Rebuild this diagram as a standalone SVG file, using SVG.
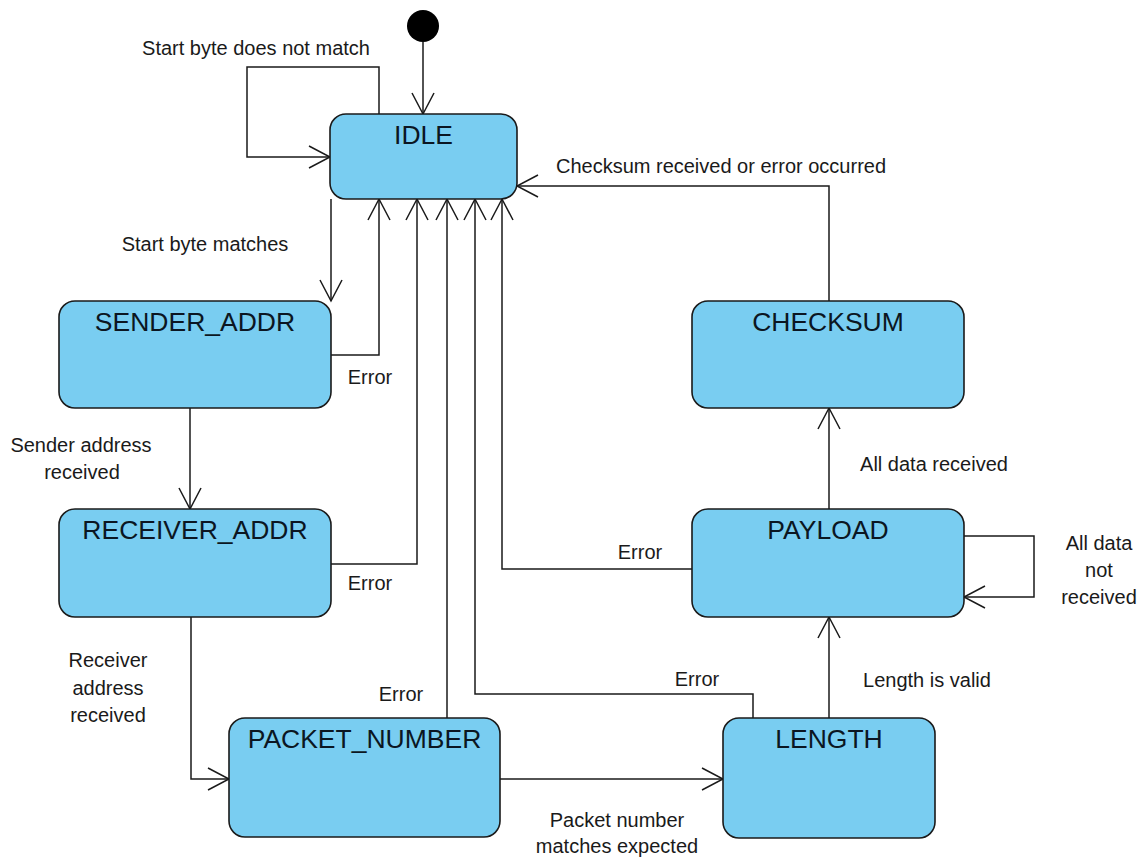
<svg xmlns="http://www.w3.org/2000/svg" width="1145" height="857" viewBox="0 0 1145 857">
<style>
.state{fill:#79CDF1;stroke:#1a1a1a;stroke-width:1.6}
.name{font-family:"Liberation Sans",Arial,sans-serif;font-size:26.5px;fill:#0b1622;text-anchor:middle}
.lbl{font-family:"Liberation Sans",Arial,sans-serif;font-size:20px;fill:#1a1a1a;text-anchor:middle}
.conn{fill:none;stroke:#1a1a1a;stroke-width:1.5;marker-end:url(#arr)}
</style>
<defs>
<marker id="arr" markerUnits="userSpaceOnUse" markerWidth="26" markerHeight="26" refX="23" refY="13" orient="auto">
<path d="M2,2 L23,13 L2,24" fill="none" stroke="#1a1a1a" stroke-width="1.5"/>
</marker>
</defs>
<rect width="1145" height="857" fill="#ffffff"/>
<g id="connectors">
<path class="conn" d="M423,42 V114"/>
<path class="conn" d="M379,114 V67 H247 V157 H330"/>
<path class="conn" d="M331,199 V301"/>
<path class="conn" d="M331,355 H379 V199"/>
<path class="conn" d="M190,408 V509"/>
<path class="conn" d="M331,564 H417 V199"/>
<path class="conn" d="M191,617 V779 H229"/>
<path class="conn" d="M447,718 V199"/>
<path class="conn" d="M500,779 H723"/>
<path class="conn" d="M753,718 V694 H475 V199"/>
<path class="conn" d="M829,718 V617"/>
<path class="conn" d="M692,569 H502 V199"/>
<path class="conn" d="M964,536 H1034 V597 H964"/>
<path class="conn" d="M829,509 V408"/>
<path class="conn" d="M829,301 V186 H517"/>
</g>
<g id="labels">
<text class="lbl" x="256" y="55">Start byte does not match</text>
<text class="lbl" x="205" y="251">Start byte matches</text>
<text class="lbl" x="370" y="384">Error</text>
<text class="lbl" x="81" y="452">Sender address</text>
<text class="lbl" x="82" y="479">received</text>
<text class="lbl" x="370" y="590">Error</text>
<text class="lbl" x="108" y="667">Receiver</text>
<text class="lbl" x="108" y="695">address</text>
<text class="lbl" x="108" y="722">received</text>
<text class="lbl" x="401" y="701">Error</text>
<text class="lbl" x="697" y="686">Error</text>
<text class="lbl" x="617" y="827">Packet number</text>
<text class="lbl" x="617" y="853">matches expected</text>
<text class="lbl" x="640" y="559">Error</text>
<text class="lbl" x="927" y="687">Length is valid</text>
<text class="lbl" x="1099" y="550">All data</text>
<text class="lbl" x="1099" y="577">not</text>
<text class="lbl" x="1099" y="604">received</text>
<text class="lbl" x="934" y="471">All data received</text>
<text class="lbl" x="721" y="173">Checksum received or error occurred</text>
</g>
<g id="initial">
<circle cx="423" cy="26" r="16" fill="#000000"/>
</g>
<g id="IDLE">
<rect class="state" x="330" y="114" width="187" height="85" rx="16"/>
<text class="name" x="423.5" y="144">IDLE</text>
</g>
<g id="SENDER_ADDR">
<rect class="state" x="59" y="301" width="272" height="107" rx="16"/>
<text class="name" x="195" y="331">SENDER_ADDR</text>
</g>
<g id="RECEIVER_ADDR">
<rect class="state" x="59" y="509" width="272" height="108" rx="16"/>
<text class="name" x="195" y="539">RECEIVER_ADDR</text>
</g>
<g id="PACKET_NUMBER">
<rect class="state" x="229" y="718" width="271" height="119" rx="16"/>
<text class="name" x="364.5" y="748">PACKET_NUMBER</text>
</g>
<g id="LENGTH">
<rect class="state" x="723" y="718" width="212" height="120" rx="16"/>
<text class="name" x="829" y="748">LENGTH</text>
</g>
<g id="PAYLOAD">
<rect class="state" x="692" y="509" width="272" height="108" rx="16"/>
<text class="name" x="828" y="539">PAYLOAD</text>
</g>
<g id="CHECKSUM">
<rect class="state" x="692" y="301" width="272" height="107" rx="16"/>
<text class="name" x="828" y="331">CHECKSUM</text>
</g>
</svg>
